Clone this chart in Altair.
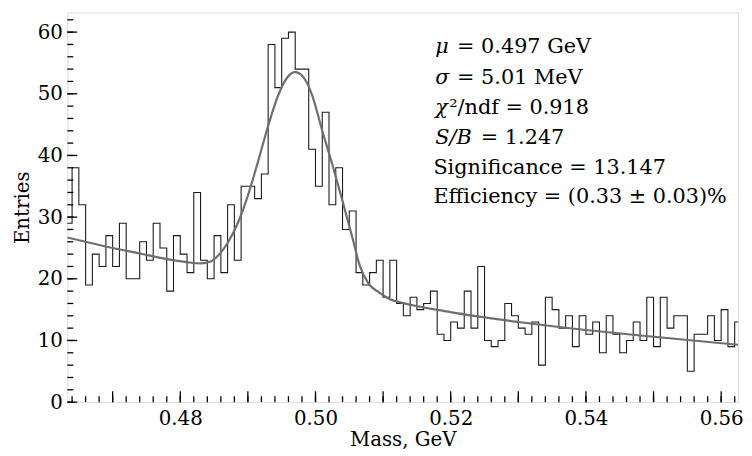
import altair as alt
import pandas as pd

# ---- data ----
bin_start = 0.463          # left edge of first bin (GeV)
bin_width = 0.001          # GeV
counts = [29, 38, 32, 19, 24, 22, 27, 22, 29, 20,
          20, 26, 23, 29, 25, 18, 27, 24, 21, 34,
          23, 20, 27, 21, 32, 23, 35, 35, 33, 37,
          58, 51, 59, 60, 54, 54, 41, 35, 47, 32,
          38, 28, 31, 21, 19, 21, 23, 17, 23, 16,
          14, 17, 15, 16, 18, 11, 10, 13, 12, 18,
          12, 22, 10, 9, 10, 16, 14, 12, 11, 13,
          6, 17, 15, 12, 14, 9, 14, 11, 13, 8,
          14, 11, 8, 10, 13, 10, 17, 9, 17, 12,
          14, 14, 5, 11, 11, 14, 10, 15, 9, 13]

fit_mass = [0.4633, 0.4660, 0.4700, 0.4740, 0.4780, 0.4810, 0.4830, 0.4845,
            0.4858, 0.4870, 0.4885, 0.4900, 0.4915, 0.4930, 0.4945, 0.4958,
            0.4970, 0.4982, 0.4995, 0.5010, 0.5025, 0.5040, 0.5055, 0.5065,
            0.5078, 0.5094, 0.5110, 0.5125, 0.5200, 0.5300, 0.5400, 0.5500, 0.5625]
fit_val = [26.7, 26.0, 25.0, 24.1, 23.2, 22.7, 22.5, 22.8,
           24.0, 25.8, 29.0, 33.5, 39.0, 44.8, 49.8, 52.6,
           53.5, 52.7, 49.8, 44.0, 38.5, 32.6, 26.5, 22.3,
           19.3, 17.8, 16.7, 16.2, 14.6, 13.0, 11.7, 10.6, 9.3]

x_labels = [0.48, 0.50, 0.52, 0.54, 0.56]
x_major = [0.47, 0.48, 0.49, 0.50, 0.51, 0.52, 0.53, 0.54, 0.55, 0.56]
x_minor = [round(0.464 + 0.002 * i, 3) for i in range(50)]
y_major = [0, 10, 20, 30, 40, 50, 60]
y_minor = list(range(0, 64, 2))

x_domain = [0.4633, 0.5625]
y_domain = [0, 63.2]

W, H = 678, 394
FONT = "DejaVu Serif"

edges = [round(bin_start + bin_width * i, 4) for i in range(len(counts) + 1)]
hist_df = pd.DataFrame({"mass": edges, "entries": counts + [counts[-1]]})
fit_df = pd.DataFrame({"mass": fit_mass, "entries": fit_val})

xs = alt.Scale(domain=x_domain, nice=False, zero=False)
ys = alt.Scale(domain=y_domain, nice=False, zero=False)

x_axis = alt.Axis(values=x_labels, format=".2f", title="Mass, GeV", grid=False,
                  domain=False, tickSize=0, labelPadding=7,
                  titleY=44, titleBaseline="alphabetic",
                  labelFont=FONT, titleFont=FONT, labelFontSize=20, titleFontSize=20,
                  titleFontWeight="normal", labelColor="#000", titleColor="#000",
                  labelFlush=False)
y_axis = alt.Axis(values=y_major, title="Entries", grid=False, domain=False, tickSize=0,
                  labelPadding=5, titlePadding=5, labelFont=FONT, titleFont=FONT,
                  labelFontSize=20, titleFontSize=20, titleFontWeight="normal",
                  labelColor="#000", titleColor="#000")

hist = alt.Chart(hist_df).mark_line(interpolate="step-after", color="#1a1a1a",
                                    strokeWidth=1.1, clip=True).encode(
    x=alt.X("mass:Q", scale=xs, axis=x_axis),
    y=alt.Y("entries:Q", scale=ys, axis=y_axis),
)

fit = alt.Chart(fit_df).mark_line(interpolate="monotone", color="#6e6e6e",
                                  strokeWidth=2.2, clip=True).encode(
    x=alt.X("mass:Q", scale=xs),
    y=alt.Y("entries:Q", scale=ys),
)

# inward ticks
def xticks(vals, length):
    return alt.Chart(pd.DataFrame({"v": vals})).mark_rule(color="#000", strokeWidth=1.3).encode(
        x=alt.X("v:Q", scale=xs), y=alt.value(H), y2=alt.value(H - length))

def yticks(vals, length):
    return alt.Chart(pd.DataFrame({"v": vals})).mark_rule(color="#000", strokeWidth=1.3).encode(
        y=alt.Y("v:Q", scale=ys), x=alt.value(0), x2=alt.value(length))

# annotation text
ann_y = [35, 66, 97, 127, 157, 187]
ital = ["μ", "σ", "χ", "S/B", "", ""]
ital_x = [372, 372, 372, 372, 372, 372]
rest = ["= 0.497 GeV", "= 5.01 MeV", "²/ndf = 0.918", "= 1.247",
        "Significance = 13.147", "Efficiency = (0.33 ± 0.03)%"]
rest_x = [394, 394, 386, 418, 370, 370]

layers = [hist, fit,
          xticks(x_minor, 6), xticks(x_major, 11),
          yticks(y_minor, 6), yticks(y_major, 10)]
for i in range(6):
    if ital[i]:
        layers.append(alt.Chart(pd.DataFrame({"t": [ital[i]]})).mark_text(
            font=FONT, fontSize=21, fontStyle="italic", align="left", baseline="middle",
            color="#000").encode(text="t:N", x=alt.value(ital_x[i]), y=alt.value(ann_y[i])))
    layers.append(alt.Chart(pd.DataFrame({"t": [rest[i]]})).mark_text(
        font=FONT, fontSize=21, align="left", baseline="middle",
        color="#000").encode(text="t:N", x=alt.value(rest_x[i]), y=alt.value(ann_y[i])))

chart = alt.layer(*layers).properties(
    width=W, height=H,
    autosize=alt.AutoSizeParams(type="none"),
    padding={"left": 60, "top": 2, "right": 6, "bottom": 50},
).configure_view(stroke="#000", strokeWidth=1.5).configure(background="white")

chart.save("out.html", embed_options={"renderer": "svg", "actions": False})
